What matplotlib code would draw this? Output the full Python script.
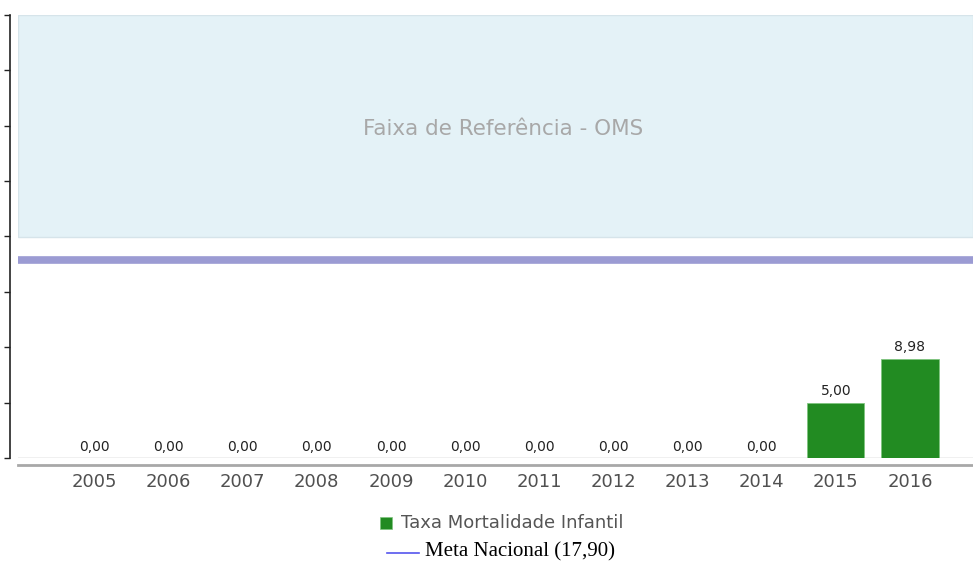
import matplotlib
matplotlib.use("Agg")
import matplotlib.pyplot as plt
from matplotlib.patches import Rectangle
from matplotlib.lines import Line2D

plt.rcParams['font.family'] = ['DejaVu Sans']

years = ["2005", "2006", "2007", "2008", "2009", "2010", "2011", "2012", "2013", "2014", "2015", "2016"]
taxa = [0.00, 0.00, 0.00, 0.00, 0.00, 0.00, 0.00, 0.00, 0.00, 0.00, 5.00, 8.98]
meta_nacional = 17.90
faixa_oms = (20, 40)
y_max = 40

W, H = 973, 561
fig = plt.figure(figsize=(W / 100, H / 100), dpi=100)
ax = fig.add_axes([18 / W, 1 - 458 / H, 1 - 18 / W, 443 / H])

x = list(range(len(years)))
ax.set_xlim(-1.03, 11.85)
ax.set_ylim(0, y_max)

# reference band
ax.axhspan(faixa_oms[0], faixa_oms[1], facecolor="#e4f2f7", edgecolor="#d6e4ea", linewidth=1, zorder=0)
ax.text(0.508, (faixa_oms[0] + faixa_oms[1]) / 2 - 0.25, "Faixa de Referência - OMS",
        transform=ax.get_yaxis_transform(), ha="center", va="center", color="#a8a8a8", fontsize=15.5)

# meta line
ax.axhline(meta_nacional, color="#9b9bd3", linewidth=5.5, zorder=2)

# baseline
ax.axhline(0, color="#eeeeee", linewidth=1.2, zorder=1)

bars = ax.bar(x, taxa, width=0.77, color="#228b22", edgecolor="#7fc47f", linewidth=0.6, zorder=3)
for xi, v in zip(x, taxa):
    ax.text(xi, v + 0.4, f"{v:.2f}".replace(".", ","), ha="center", va="bottom",
            fontsize=10, color="#222222", zorder=4)

ax.set_xticks(x)
ax.set_xticklabels(years)
ax.tick_params(axis="x", length=0, pad=6, labelsize=13, labelcolor="#505050")
ax.set_yticks(range(0, y_max + 1, 5))
ax.set_yticklabels([])
ax.tick_params(axis="y", length=4, width=1, color="#222222", direction="out")

for s in ["top", "right"]:
    ax.spines[s].set_visible(False)
ax.spines["left"].set_position(("outward", 6))
ax.spines["left"].set_color("#222222")
ax.spines["left"].set_linewidth(1.2)
ax.spines["bottom"].set_position(("outward", 5))
ax.spines["bottom"].set_color("#a8a8a8")
ax.spines["bottom"].set_linewidth(2)

# legend
fig.patches.append(Rectangle((380 / W, 1 - 529 / H), 12 / W, 12 / H, transform=fig.transFigure,
                             facecolor="#228b22", edgecolor="#7fc47f", linewidth=0.5))
fig.text(401 / W, 1 - 523 / H, "Taxa Mortalidade Infantil", ha="left", va="center",
         fontsize=13, color="#555555")
fig.lines.append(Line2D([387 / W, 419 / W], [1 - 553 / H, 1 - 553 / H], transform=fig.transFigure,
                        color="#5555ee", linewidth=1.2))
fig.text(425 / W, 1 - 552 / H, f"Meta Nacional ({meta_nacional:.2f})".replace(".", ","), ha="left",
         va="center", fontsize=15, color="#000000", family="Liberation Serif")

fig.savefig("out.png", dpi=100)
